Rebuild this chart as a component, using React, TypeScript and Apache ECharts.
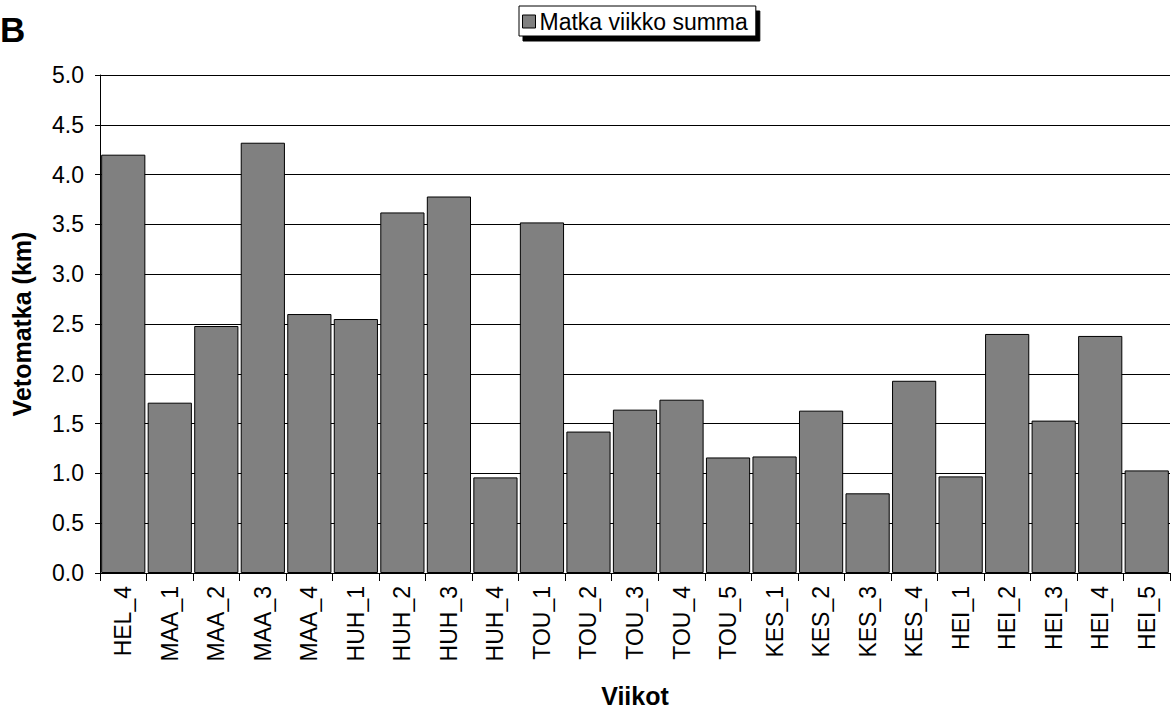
import React, { useEffect, useRef } from "react";
import * as echarts from "echarts";

const weeks = [
  "HEL_4", "MAA_1", "MAA_2", "MAA_3", "MAA_4", "HUH_1", "HUH_2", "HUH_3",
  "HUH_4", "TOU_1", "TOU_2", "TOU_3", "TOU_4", "TOU_5", "KES_1", "KES_2",
  "KES_3", "KES_4", "HEI_1", "HEI_2", "HEI_3", "HEI_4", "HEI_5",
];

const weeklyDistance = [
  4.2, 1.71, 2.48, 4.32, 2.6, 2.55, 3.62, 3.78,
  0.96, 3.52, 1.42, 1.64, 1.74, 1.16, 1.17, 1.63,
  0.8, 1.93, 0.97, 2.4, 1.53, 2.38, 1.03,
];

const seriesName = "Matka viikko summa";
const xTitle = "Viikot";
const yTitle = "Vetomatka (km)";
const panelLetter = "B";

const FONT = "'Liberation Sans', Arial, sans-serif";

export default function App() {
  const ref = useRef<HTMLDivElement>(null);

  useEffect(() => {
    if (!ref.current) return;
    const chart = echarts.init(ref.current, null, { renderer: "svg" });
    chart.setOption({
      animation: false,
      backgroundColor: "#ffffff",
      textStyle: { fontFamily: FONT, color: "#000" },
      grid: { left: 100, right: 4, top: 75, bottom: 136, containLabel: false },
      legend: {
        data: [{ name: seriesName, icon: "rect" }],
        left: 519,
        top: 6,
        orient: "horizontal",
        padding: [4, 8, 3, 3],
        itemWidth: 13,
        itemHeight: 13,
        itemGap: 4,
        backgroundColor: "#fff",
        borderColor: "#000",
        borderWidth: 1,
        borderRadius: 0,
        shadowColor: "#000",
        shadowBlur: 0,
        shadowOffsetX: 4,
        shadowOffsetY: 5,
        itemStyle: { color: "#808080", borderColor: "#000", borderWidth: 1 },
        textStyle: { fontFamily: FONT, fontSize: 23, color: "#000", padding: [0, 0, 0, -1] },
        selectedMode: false,
      },
      graphic: [
        {
          type: "text",
          left: 0,
          top: 12,
          style: {
            text: panelLetter,
            fontFamily: FONT,
            fontWeight: "bold",
            fontSize: 35,
            fill: "#000",
          },
        },
      ],
      xAxis: {
        type: "category",
        data: weeks,
        name: xTitle,
        nameLocation: "middle",
        nameGap: 110,
        nameTextStyle: { fontFamily: FONT, fontSize: 25, fontWeight: "bold", color: "#000" },
        axisLine: { show: true, lineStyle: { color: "#000", width: 1 } },
        axisTick: { show: true, length: 8, alignWithLabel: false, lineStyle: { color: "#000" } },
        axisLabel: {
          rotate: 90,
          interval: 0,
          margin: 13,
          fontFamily: FONT,
          fontSize: 23,
          color: "#000",
        },
        splitLine: { show: false },
      },
      yAxis: {
        type: "value",
        min: 0,
        max: 5,
        interval: 0.5,
        name: yTitle,
        nameLocation: "middle",
        nameGap: 66,
        nameRotate: 90,
        nameTextStyle: { fontFamily: FONT, fontSize: 25, fontWeight: "bold", color: "#000" },
        axisLine: { show: true, lineStyle: { color: "#000", width: 1 } },
        axisTick: { show: true, length: 5, lineStyle: { color: "#000" } },
        axisLabel: {
          margin: 16,
          fontFamily: FONT,
          fontSize: 23,
          color: "#000",
          formatter: (v: number) => v.toFixed(1),
        },
        splitLine: { show: true, lineStyle: { color: "#000", width: 1 } },
      },
      series: [
        {
          name: seriesName,
          type: "bar",
          data: weeklyDistance,
          barCategoryGap: "5%",
          itemStyle: { color: "#808080", borderColor: "#000", borderWidth: 1 },
          emphasis: { disabled: true },
        },
      ],
    });
    return () => chart.dispose();
  }, []);

  return (
    <div
      ref={ref}
      style={{ position: "fixed", left: 0, top: 0, width: 1174, height: 713, background: "#fff" }}
    />
  );
}
